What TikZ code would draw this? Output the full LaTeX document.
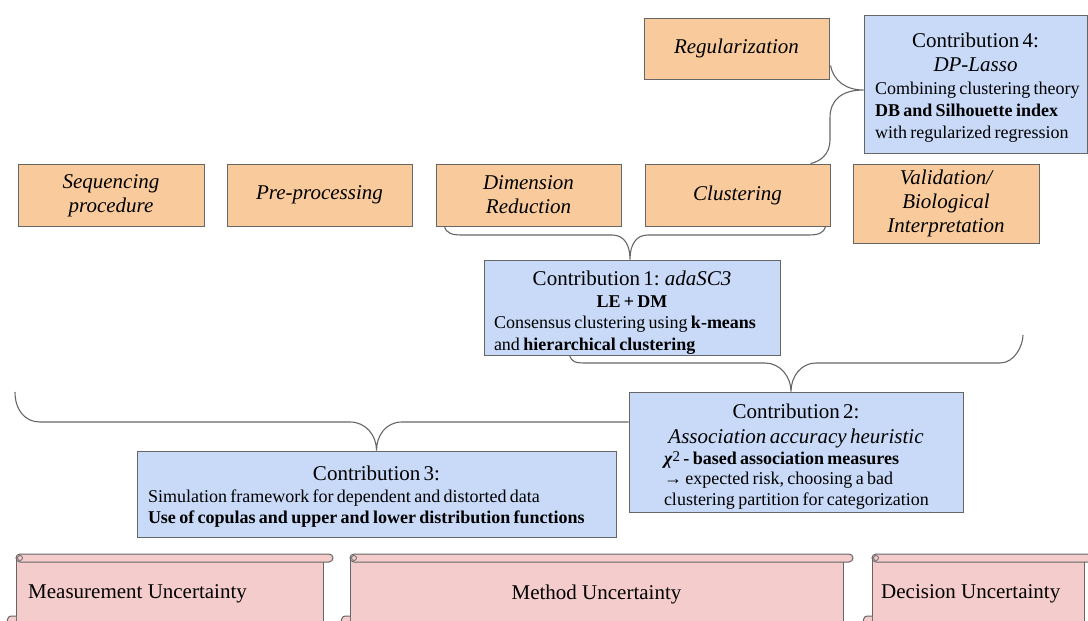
\documentclass[tikz,border=0pt]{standalone}
\usepackage{fontspec}
\setmainfont{Liberation Serif}
\usetikzlibrary{calc}
\definecolor{orfill}{HTML}{F9CB9C}
\definecolor{blfill}{HTML}{C9DAF8}
\definecolor{pkfill}{HTML}{F4CCCC}
\definecolor{edge}{HTML}{666666}
\newcommand{\Tsize}{\fontsize{21}{24}\selectfont}
\newcommand{\Hsize}{\fontsize{21}{25.5}\selectfont}
\newcommand{\Bsize}{\fontsize{18}{21.8}\selectfont}
\newcommand{\topstrut}[1]{\rule{0pt}{#1pt}}
\tikzset{
  stagebox/.style={draw=edge, line width=1pt, fill=orfill, inner sep=0pt, align=center, font=\Tsize\itshape},
  contribbox/.style={draw=edge, line width=1pt, fill=blfill, inner xsep=0pt, inner ysep=0pt},
  bracket/.style={draw=edge, line width=1.1pt},
  scrollline/.style={draw=edge, line width=1pt, fill=pkfill},
  scrolltext/.style={font=\Tsize, inner sep=0pt},
}
\newcommand{\scrollbody}[3]{%
  \fill[pkfill] (#1,562) rectangle (#2,630);
  \draw[edge, line width=1pt] (#1,556) -- (#1,630) (#2,562) -- (#2,630);
  \draw[scrollline, rounded corners=4] (#1,554) rectangle (#3,562);
  \draw[edge, line width=0.8pt, fill=pkfill] (#1+4,558) circle (2.5);
  \draw[scrollline] (#1,616) -- (#1-5,616) .. controls (#1-9,616) and (#1-9,622) .. (#1-9,626) -- (#1,626);
}
\begin{document}
\begin{tikzpicture}[x=1pt, y=-1pt]
\useasboundingbox (0,0) rectangle (1088,621);

% stage boxes
\node[stagebox, minimum width=186, minimum height=62] (seq) at (111,195.5) {Sequencing\\procedure};
\node[stagebox, minimum width=185, minimum height=62] (pre) at (319.5,195) {Pre-processing};
\node[stagebox, minimum width=185, minimum height=62] (dim) at (528.5,195) {Dimension\\Reduction};
\node[stagebox, minimum width=185, minimum height=62] (clus) at (737.5,195) {Clustering};
\node[stagebox, minimum width=186, minimum height=79] (val) at (946,203.5) {Validation/\\Biological\\Interpretation};
\node[stagebox, minimum width=185, minimum height=61] (reg) at (736.5,48.5) {Regularization};

% contributions
\node[contribbox, minimum width=223, minimum height=138, text width=201] (c4) at (975.5,84)
 {{\Tsize\centering\topstrut{21}Contribution 4:\\ \textit{DP-Lasso}\par}\vspace{1.5pt}%
  {\Bsize\raggedright\mbox{Combining clustering theory}\\ \mbox{\textbf{DB and Silhouette index}}\\ \mbox{with regularized regression}\par}};

\node[contribbox, minimum width=296, minimum height=95, text width=276] (c1) at (632,307.5)
 {{\Tsize\centering\topstrut{25}Contribution 1: \textit{adaSC3}\par}%
  {\Bsize\centering\textbf{LE + DM}\par}%
  {\Bsize\raggedright\mbox{Consensus clustering using \textbf{k-means}}\\ \mbox{and \textbf{hierarchical clustering}}\par}};

\node[contribbox, minimum width=334, minimum height=120, text width=264] (c2) at (796,452)
 {{\Hsize\centering\topstrut{23}Contribution 2:\\ \textit{Association accuracy heuristic}\par}%
  {\fontsize{18}{20.5}\selectfont\raggedright\mbox{\textbf{\textit{χ}}\raisebox{2.5pt}{\fontsize{15}{15}\selectfont 2} \textbf{- based association measures}}\\ \mbox{→ expected risk, choosing a bad}\\ \mbox{clustering partition for categorization}\par}};

\node[contribbox, minimum width=479, minimum height=86, text width=457] (c3) at (376.5,494)
 {{\Tsize\centering\topstrut{20}Contribution 3:\par}%
  {\Bsize\raggedright\mbox{Simulation framework for dependent and distorted data}\\ \mbox{\textbf{Use of copulas and upper and lower distribution functions}}\par}};

% free brace ends
\coordinate (e2) at (1023,335);
\coordinate (e3) at (15,392);

% brace 4 (Regularization + Clustering -> Contribution 4)
\draw[bracket] ($(reg.south east)+(1,-14)$) .. controls +(3,15) and +(-18,0) .. ($(c4.west)+(0,6)$)
  .. controls +(-22,0) and +(0,-18) .. (830,118) -- (830,140)
  .. controls +(0,14) and +(10,-2) .. ($(clus.north east)+(-20,0)$);

% brace 1 (Dimension Reduction + Clustering -> Contribution 1)
\draw[bracket] ($(dim.south west)+(9,0)$) .. controls +(2,7) and +(-10,0) .. (462,235) -- (612,235)
  .. controls +(12,0) and +(0,-15) .. ($(c1.north)+(-2,0)$)
  .. controls +(0,-15) and +(-12,0) .. (648,235) -- (808,235)
  .. controls +(10,0) and +(-2,7) .. ($(clus.south east)+(-5,0)$);

% brace 2 (-> Contribution 2)
\draw[bracket] ($(c1.south west)+(86,0)$) .. controls +(2,6) and +(-10,0) .. (585,363) -- (765,363)
  .. controls +(15,0) and +(0,-15) .. ($(c2.north)+(-5,0)$)
  .. controls +(0,-15) and +(-15,0) .. (816,363) -- (1000,363)
  .. controls +(15,0) and +(0,10) .. (e2);

% brace 3 (-> Contribution 3)
\draw[bracket] (e3) .. controls +(0,18) and +(-15,0) .. (40,422) -- (350,422)
  .. controls +(16,0) and +(0,-15) .. (c3.north)
  .. controls +(0,-15) and +(-16,0) .. (402,422) -- ($(c2.west)+(0,-30)$);

% scrolls
\scrollbody{16}{323}{333}
\scrollbody{350}{843}{853}
\scrollbody{872}{1084}{1100}
\node[scrolltext, anchor=west] (mu) at (28,594) {Measurement Uncertainty};
\node[scrolltext] (metu) at (596.5,594) {Method Uncertainty};
\node[scrolltext, anchor=west] (du) at (881,594) {Decision Uncertainty};
\end{tikzpicture}
\end{document}
